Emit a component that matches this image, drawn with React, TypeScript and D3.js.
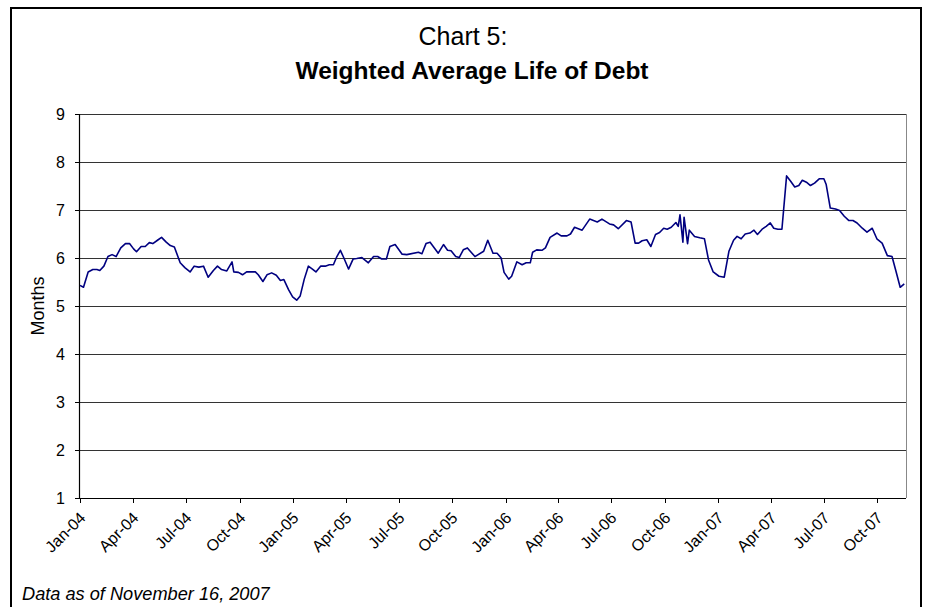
import React from "react";
import * as d3 from "d3";

const dates: string[] = [
  "2004-01-01","2004-01-07","2004-01-15","2004-01-23","2004-01-30","2004-02-04","2004-02-11","2004-02-18","2004-02-25","2004-03-03",
  "2004-03-11","2004-03-19","2004-03-26","2004-04-02","2004-04-07","2004-04-15","2004-04-22","2004-04-29","2004-05-05","2004-05-13",
  "2004-05-20","2004-05-28","2004-06-04","2004-06-11","2004-06-21","2004-06-29","2004-07-08","2004-07-15","2004-07-23","2004-07-31",
  "2004-08-08","2004-08-17","2004-08-24","2004-08-31","2004-09-09","2004-09-18","2004-09-21","2004-09-29","2004-10-06","2004-10-13",
  "2004-10-28","2004-11-02","2004-11-10","2004-11-17","2004-11-25","2004-12-03","2004-12-10","2004-12-16","2004-12-24","2004-12-31",
  "2005-01-07","2005-01-13","2005-01-20","2005-01-27","2005-02-03","2005-02-09","2005-02-17","2005-02-25","2005-03-04","2005-03-11",
  "2005-03-17","2005-03-23","2005-03-29","2005-04-06","2005-04-14","2005-04-20","2005-04-29","2005-05-10","2005-05-19","2005-05-26",
  "2005-06-02","2005-06-10","2005-06-16","2005-06-25","2005-07-07","2005-07-15","2005-08-04","2005-08-10","2005-08-17","2005-08-24",
  "2005-09-07","2005-09-16","2005-09-23","2005-09-29","2005-10-07","2005-10-13","2005-10-20","2005-10-27","2005-11-09","2005-11-24",
  "2005-12-01","2005-12-10","2005-12-17","2005-12-24","2005-12-29","2006-01-06","2006-01-11","2006-01-20","2006-01-29","2006-02-05",
  "2006-02-12","2006-02-16","2006-02-23","2006-03-04","2006-03-10","2006-03-18","2006-03-30","2006-04-06","2006-04-16","2006-04-22",
  "2006-04-29","2006-05-12","2006-05-25","2006-06-07","2006-06-15","2006-06-28","2006-07-05","2006-07-13","2006-07-27","2006-08-04",
  "2006-08-11","2006-08-17","2006-08-23","2006-08-31","2006-09-07","2006-09-15","2006-09-22","2006-09-29","2006-10-05","2006-10-12",
  "2006-10-20","2006-10-24","2006-10-27","2006-11-01","2006-11-03","2006-11-09","2006-11-12","2006-11-21","2006-11-30","2006-12-08",
  "2006-12-15","2006-12-23","2007-01-02","2007-01-11","2007-01-19","2007-01-27","2007-02-02","2007-02-09","2007-02-16","2007-02-24",
  "2007-03-03","2007-03-09","2007-03-17","2007-03-24","2007-03-31","2007-04-06","2007-04-13","2007-04-20","2007-04-28","2007-05-05",
  "2007-05-12","2007-05-19","2007-05-25","2007-06-01","2007-06-08","2007-06-15","2007-06-23","2007-07-01","2007-07-05","2007-07-12",
  "2007-07-21","2007-07-28","2007-08-05","2007-08-13","2007-08-20","2007-08-27","2007-09-05","2007-09-13","2007-09-22","2007-09-30",
  "2007-10-09","2007-10-18","2007-10-26","2007-11-01","2007-11-09","2007-11-16",
];

const values: number[] = [
  5.43,5.39,5.71,5.76,5.76,5.74,5.83,6.03,6.07,6.03,
  6.21,6.30,6.30,6.19,6.13,6.24,6.24,6.32,6.30,6.37,
  6.43,6.33,6.26,6.23,5.90,5.80,5.71,5.83,5.81,5.83,
  5.60,5.74,5.83,5.76,5.73,5.92,5.71,5.70,5.65,5.71,
  5.71,5.65,5.51,5.65,5.69,5.64,5.53,5.55,5.34,5.19,
  5.12,5.21,5.56,5.83,5.77,5.71,5.83,5.83,5.86,5.86,
  6.03,6.16,6.00,5.77,5.98,5.99,6.01,5.90,6.03,6.03,
  5.98,5.98,6.24,6.28,6.08,6.07,6.12,6.09,6.30,6.33,
  6.10,6.28,6.16,6.15,6.03,6.01,6.17,6.21,6.03,6.14,
  6.37,6.10,6.10,6.00,5.70,5.56,5.62,5.92,5.86,5.90,
  5.90,6.12,6.17,6.16,6.21,6.43,6.52,6.46,6.46,6.50,
  6.64,6.58,6.81,6.75,6.81,6.71,6.69,6.61,6.78,6.75,
  6.31,6.31,6.36,6.38,6.24,6.49,6.53,6.62,6.60,6.64,
  6.74,6.66,6.90,6.33,6.85,6.30,6.58,6.45,6.42,6.40,
  5.96,5.71,5.62,5.60,6.14,6.37,6.45,6.40,6.50,6.52,
  6.58,6.49,6.60,6.66,6.73,6.62,6.60,6.60,7.71,7.60,
  7.48,7.51,7.62,7.58,7.51,7.56,7.65,7.65,7.53,7.04,
  7.02,6.99,6.87,6.78,6.78,6.73,6.62,6.54,6.62,6.40,
  6.31,6.05,6.03,5.76,5.39,5.46,
];

const yTicks: number[] = [1, 2, 3, 4, 5, 6, 7, 8, 9];
const xTickDates: string[] = [
  "2004-01-01","2004-04-01","2004-07-01","2004-10-01",
  "2005-01-01","2005-04-01","2005-07-01","2005-10-01",
  "2006-01-01","2006-04-01","2006-07-01","2006-10-01",
  "2007-01-01","2007-04-01","2007-07-01","2007-10-01",
];
const xDomain: string[] = ["2004-01-01", "2007-11-19"];

const W = 927;
const H = 607;
const left = 80;
const right = 906;
const top = 114;
const bottom = 498;
const FONT = "'Liberation Sans', Arial, sans-serif";

export default function App() {
  const parse = d3.utcParse("%Y-%m-%d");
  const fmt = d3.utcFormat("%b-%y");
  const x = d3.scaleUtc().domain(xDomain.map((s) => parse(s)!)).range([left, right]);
  const y = d3.scaleLinear().domain([1, 9]).range([bottom, top]);
  const data = dates.map((d, i) => ({ d: parse(d)!, v: values[i] }));
  const line = d3
    .line<{ d: Date; v: number }>()
    .x((p) => x(p.d))
    .y((p) => y(p.v));

  return (
    <svg
      width={W}
      height={H}
      style={{ position: "absolute", left: 0, top: 0, background: "#fff" }}
      fontFamily={FONT}
    >
      <rect x={0} y={0} width={W} height={H} fill="#fff" />
      <rect x={11} y={8} width={910} height={620} fill="none" stroke="#000" strokeWidth={2} />
      <text x={463} y={45} textAnchor="middle" fontSize={25}>
        Chart 5:
      </text>
      <text x={472} y={79} textAnchor="middle" fontSize={24.5} fontWeight="bold">
        Weighted Average Life of Debt
      </text>
      {yTicks.map((t) => (
        <g key={t}>
          {t > 1 && (
            <line
              x1={left}
              x2={right}
              y1={Math.round(y(t)) + 0.5}
              y2={Math.round(y(t)) + 0.5}
              stroke="#333"
              strokeWidth={1}
            />
          )}
          <line
            x1={left - 5}
            x2={left}
            y1={Math.round(y(t)) + 0.5}
            y2={Math.round(y(t)) + 0.5}
            stroke="#000"
          />
          <text x={left - 15} y={y(t) + 6} textAnchor="end" fontSize={16}>
            {t}
          </text>
        </g>
      ))}
      <line x1={right + 0.5} x2={right + 0.5} y1={top} y2={bottom} stroke="#888" strokeWidth={1} />
      <line x1={left - 0.5} x2={left - 0.5} y1={top} y2={bottom + 1} stroke="#000" strokeWidth={1.2} />
      <line x1={left} x2={right} y1={bottom + 0.5} y2={bottom + 0.5} stroke="#000" strokeWidth={1.2} />
      {xTickDates.map((s) => {
        const dt = parse(s)!;
        const px = Math.round(x(dt)) + 0.5;
        return (
          <g key={s}>
            <line x1={px} x2={px} y1={bottom} y2={bottom + 5} stroke="#000" />
            <text
              transform={`translate(${px + 2},${bottom + 17}) rotate(-45)`}
              textAnchor="end"
              fontSize={16}
              dy="0.35em"
            >
              {fmt(dt)}
            </text>
          </g>
        );
      })}
      <text
        transform={`translate(${44},${(top + bottom) / 2}) rotate(-90)`}
        textAnchor="middle"
        fontSize={18}
      >
        Months
      </text>
      <path d={line(data) ?? ""} fill="none" stroke="#000080" strokeWidth={1.6} strokeLinejoin="round" />
      <text x={22} y={600} fontSize={18.2} fontStyle="italic">
        Data as of November 16, 2007
      </text>
    </svg>
  );
}
